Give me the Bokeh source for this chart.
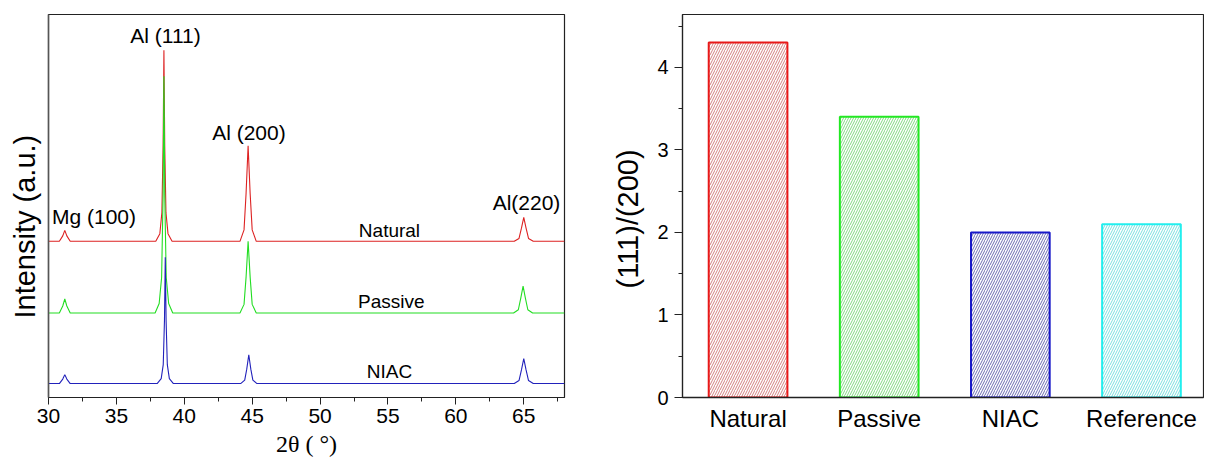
from bokeh.plotting import figure
from bokeh.models import Range1d, FixedTicker, Title
from bokeh.layouts import row
from bokeh.embed import file_html
from bokeh.resources import INLINE
from bokeh.core.properties import value

# ---------------- XRD patterns (2theta in degrees, intensity in a.u.) ----------------
two_theta_natural = [30.0, 30.8, 31.05, 31.2, 31.35, 31.6,
                     37.9, 38.2, 38.35, 38.44, 38.5, 38.56, 38.65, 38.8, 39.1,
                     44.1, 44.4, 44.55, 44.7, 44.85, 45.0, 45.3,
                     64.3, 64.65, 64.83, 65.0, 65.17, 65.35, 65.7, 68.0]
intensity_natural = [0, 0, 5.5, 11, 5.5, 0,
                     0, 7.7, 28.8, 96, 192, 96, 28.8, 7.7, 0,
                     0, 11.5, 48, 96, 48, 11.5, 0,
                     0, 2.9, 13.2, 24, 13.2, 2.9, 0, 0]

two_theta_passive = [30.0, 30.8, 31.05, 31.2, 31.35, 31.6,
                     37.85, 38.15, 38.33, 38.44, 38.5, 38.56, 38.67, 38.85, 39.15,
                     44.1, 44.4, 44.55, 44.7, 44.85, 45.0, 45.3,
                     64.25, 64.6, 64.78, 64.95, 65.12, 65.3, 65.65, 68.0]
intensity_passive = [0, 0, 7, 14, 7, 0,
                     0, 9.5, 35.7, 119, 238, 119, 35.7, 9.5, 0,
                     0, 8.6, 36, 72, 36, 8.6, 0,
                     0, 3.2, 14.9, 27, 14.9, 3.2, 0, 0]

two_theta_niac = [30.0, 30.8, 31.05, 31.2, 31.35, 31.6,
                  38.0, 38.3, 38.45, 38.54, 38.6, 38.66, 38.75, 38.9, 39.2,
                  44.15, 44.45, 44.6, 44.75, 44.9, 45.05, 45.35,
                  64.3, 64.65, 64.83, 65.0, 65.17, 65.35, 65.7, 68.0]
intensity_niac = [0, 0, 4.5, 9, 4.5, 0,
                  0, 5, 19, 63.5, 127, 63.5, 19, 5, 0,
                  0, 3.5, 14.5, 29, 14.5, 3.5, 0,
                  0, 3, 13.75, 25, 13.75, 3, 0, 0]

xrd_ticks = [30, 35, 40, 45, 50, 55, 60, 65]
peak_labels = ["Al (111)", "Al (200)", "Mg (100)", "Al(220)"]
curve_labels = ["Natural", "Passive", "NIAC"]

# ---------------- (111)/(200) intensity ratio ----------------
samples = ["Natural", "Passive", "NIAC", "Reference"]
ratio_111_200 = [4.3, 3.4, 2.0, 2.1]
ratio_ticks = [0, 1, 2, 3, 4]

# ---------------- styles ----------------
FONT = value("Liberation Sans")
offset_natural, offset_passive, offset_niac = 157, 85, 14
curve_colors = ["#dd2222", "#22dd22", "#2222bb"]
bar_line_colors = ["#e81818", "#22e822", "#1818c8", "#22eeee"]
bar_hatch_colors = ["#c45858", "#58cc58", "#3c3c98", "#50d4d4"]

# ================= left figure =================
p1 = figure(width=600, height=464, x_range=Range1d(30, 68), y_range=Range1d(0, 385),
            output_backend="svg", toolbar_location=None,
            min_border_left=48, min_border_right=36, min_border_top=12, min_border_bottom=67)
p1.xgrid.visible = False
p1.ygrid.visible = False
p1.outline_line_color = "#222222"
p1.outline_line_width = 1.2

p1.line(two_theta_natural, [v + offset_natural for v in intensity_natural],
        line_color=curve_colors[0], line_width=1.1)
p1.line(two_theta_passive, [v + offset_passive for v in intensity_passive],
        line_color=curve_colors[1], line_width=1.1)
p1.line(two_theta_niac, [v + offset_niac for v in intensity_niac],
        line_color=curve_colors[2], line_width=1.1)

p1.text(x=[38.62, 44.76, 33.35, 65.2], y=[364, 266, 182, 196], text=peak_labels,
        text_align="center", text_baseline="middle", text_font=FONT,
        text_font_size="21px", text_color="black")
p1.text(x=[55.11, 55.25, 55.11], y=[168, 97, 26], text=curve_labels,
        text_align="center", text_baseline="middle", text_font=FONT,
        text_font_size="19px", text_color="black")

xa = p1.xaxis[0]
xa.ticker = FixedTicker(ticks=xrd_ticks, minor_ticks=[t + 2.5 for t in xrd_ticks])
xa.major_tick_out = 7
xa.major_tick_in = 0
xa.minor_tick_out = 4
xa.minor_tick_in = 0
xa.major_label_standoff = 4
xa.major_label_text_font = "Liberation Sans"
xa.major_label_text_font_size = "21px"
xa.major_label_text_color = "black"
xa.axis_line_color = "#222222"
xa.axis_line_width = 1.2
xa.major_tick_line_color = "#222222"
xa.minor_tick_line_color = "#222222"
xa.axis_label = "2θ ( °)"
xa.axis_label_text_font = "Liberation Serif"
xa.axis_label_text_font_style = "normal"
xa.axis_label_text_font_size = "24px"
xa.axis_label_text_color = "black"
xa.axis_label_standoff = 5

ya = p1.yaxis[0]
ya.ticker = FixedTicker(ticks=[])
ya.major_tick_out = 0
ya.minor_tick_out = 0
ya.major_label_standoff = 0
ya.axis_line_color = "#555555"
ya.axis_line_width = 1.5

p1.add_layout(Title(text="Intensity (a.u.)", align="left", offset=79,
                    vertical_align="middle", standoff=14,
                    text_font="Liberation Sans", text_font_size="29px",
                    text_font_style="normal", text_color="black"), "left")

# ================= right figure =================
bar_x = [i + 0.5 for i in range(len(samples))]
p2 = figure(width=604, height=464, x_range=Range1d(0, 3.973), y_range=Range1d(0, 4.64),
            output_backend="svg", toolbar_location=None,
            min_border_left=81, min_border_right=1, min_border_top=14, min_border_bottom=58)
p2.xgrid.visible = False
p2.ygrid.visible = False
p2.outline_line_color = "#222222"
p2.outline_line_width = 1.2

p2.vbar(x=bar_x, top=ratio_111_200, bottom=0, width=0.6,
        fill_color="white", line_color=bar_line_colors, line_width=2,
        hatch_pattern="/", hatch_color=bar_hatch_colors, hatch_scale=5, hatch_weight=0.75)

bx = p2.xaxis[0]
bx.ticker = FixedTicker(ticks=bar_x)
bx.major_label_overrides = {x: s for x, s in zip(bar_x, samples)}
bx.major_tick_out = 0
bx.major_tick_in = 0
bx.minor_tick_out = 0
bx.minor_tick_in = 0
bx.major_label_standoff = 7
bx.major_label_text_font = "Liberation Sans"
bx.major_label_text_font_size = "24px"
bx.major_label_text_color = "black"
bx.axis_line_color = "#222222"
bx.axis_line_width = 1.5

by = p2.yaxis[0]
by.ticker = FixedTicker(ticks=ratio_ticks, minor_ticks=[t + 0.5 for t in ratio_ticks])
by.major_tick_out = 8
by.major_tick_in = 0
by.minor_tick_out = 4
by.minor_tick_in = 0
by.major_label_standoff = 6
by.major_label_text_font = "Liberation Sans"
by.major_label_text_font_size = "20px"
by.major_label_text_color = "black"
by.axis_line_color = "#222222"
by.axis_line_width = 1.2
by.major_tick_line_color = "#222222"
by.minor_tick_line_color = "#222222"

p2.add_layout(Title(text="(111)/(200)", align="left", offset=109,
                    vertical_align="middle", standoff=20,
                    text_font="Liberation Sans", text_font_size="29px",
                    text_font_style="normal", text_color="black"), "left")

layout = row(p1, p2)
open("out.html", "w").write(file_html(layout, INLINE))
